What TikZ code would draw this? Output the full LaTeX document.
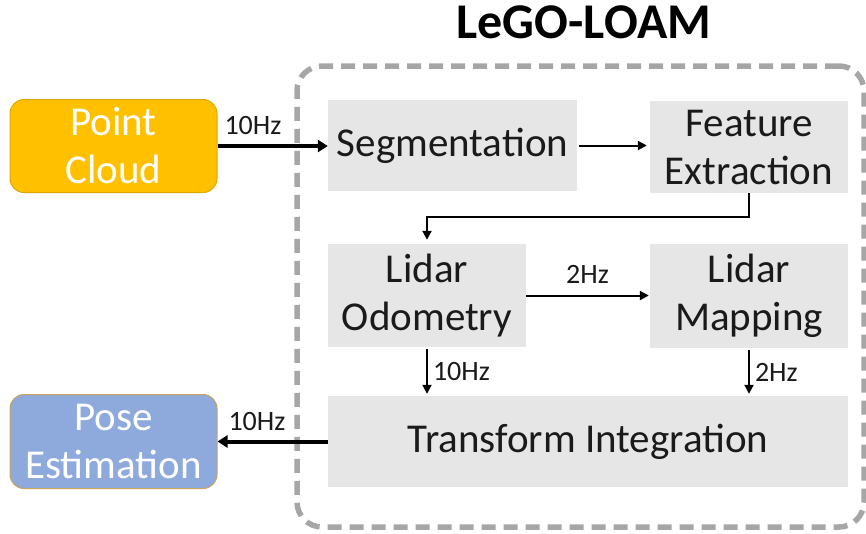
\documentclass[tikz,border=0pt]{standalone}
\usepackage{fontspec}
\setmainfont{Carlito}
\usetikzlibrary{arrows.meta}
\definecolor{procgray}{HTML}{E6E6E6}
\definecolor{framegray}{HTML}{A6A6A6}
\definecolor{cloudgold}{HTML}{FFC000}
\definecolor{cloudedge}{HTML}{DDA800}
\definecolor{poseblue}{HTML}{8EA9DB}
\definecolor{poseedge}{HTML}{C8A45C}
\definecolor{inktext}{HTML}{1A1A1A}

\begin{document}
\begin{tikzpicture}[x=1pt,y=-1pt,
  proc/.style={fill=procgray, inner sep=0pt, align=center, text=inktext,
    font=\fontsize{41}{48}\selectfont},
  iobox/.style={rounded corners=14pt, inner sep=0pt, align=center, text=white,
    line width=1pt, font=\fontsize{41}{48}\selectfont},
  rate/.style={font=\fontsize{28}{30}\selectfont, inner sep=0pt, text=inktext},
  thinarrow/.style={line width=2pt, -{Triangle[length=9pt,width=9pt]}},
  thickarrow/.style={line width=4pt, -{Triangle[length=10pt,width=12pt]}}]

\useasboundingbox (0,0) rectangle (866,533);

% title and dashed system frame
\node[font=\bfseries\fontsize{50}{52}\selectfont, anchor=base, text=black] (title) at (584,38) {LeGO-LOAM};
\node[draw=framegray, line width=5.5pt, dash pattern=on 14pt off 8pt,
  rounded corners=25pt, minimum width=567pt, minimum height=461pt, inner sep=0pt]
  (frame) at (580.5,296.5) {};

% input and output
\node[iobox, fill=cloudgold, draw=cloudedge, minimum width=207pt, minimum height=93pt] (pc) at (113.5,146) {Point\\Cloud};
\node[iobox, fill=poseblue, draw=poseedge, minimum width=207pt, minimum height=94pt] (pose) at (113.5,441.5) {Pose\\Estimation};

% processing modules
\node[proc, minimum width=249pt, minimum height=91pt] (seg) at (452.5,145.5) {Segmentation};
\node[proc, minimum width=198pt, minimum height=92pt] (fe) at (749,147) {Feature\\Extraction};
\node[proc, minimum width=198pt, minimum height=103pt] (lo) at (427,295.5) {Lidar\\Odometry};
\node[proc, minimum width=198pt, minimum height=104pt] (lm) at (749,296) {Lidar\\Mapping};
\node[proc, minimum width=520pt, minimum height=91pt] (ti) at (588,441.5) {Transform Integration};

% data flow
\draw[thickarrow] (pc.east) -- (pc.east -| seg.west)
  node[rate, pos=0, anchor=south west, xshift=5pt, yshift=9pt] {10Hz};
\draw[thinarrow] ([xshift=2pt]seg.east) -- ([xshift=-3pt]seg.east -| fe.west);
\draw[thinarrow] (fe.south) -- ++(0,24) -| ([yshift=4pt]lo.north);
\draw[thinarrow] (lo.east) -- ([xshift=-1pt]lo.east -| lm.west)
  node[rate, midway, anchor=south, yshift=11pt] {2Hz};
\draw[thinarrow] ([yshift=-2pt]lo.south) -- ([yshift=2pt]ti.north -| lo.south)
  node[rate, midway, anchor=west, xshift=5pt] {10Hz};
\draw[thinarrow] ([yshift=-2pt]lm.south) -- ([yshift=2pt]ti.north -| lm.south)
  node[rate, midway, anchor=west, xshift=5pt] {2Hz};
\draw[thickarrow] (ti.west) -- (ti.west -| pose.east)
  node[rate, pos=1, anchor=south west, xshift=9pt, yshift=9pt] {10Hz};
\end{tikzpicture}
\end{document}
